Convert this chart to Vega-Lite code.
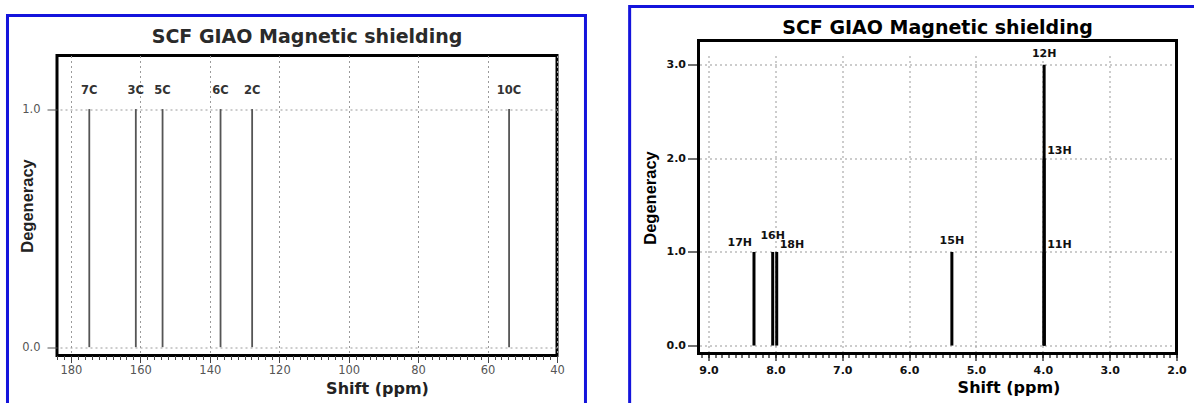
{
  "$schema": "https://vega.github.io/schema/vega-lite/v6.json",
  "background": "white",
  "padding": {"left": 4, "top": 4.5, "right": 0, "bottom": 0},
  "spacing": 38.5,
  "config": {
    "view": {"stroke": "black", "strokeWidth": 3, "fill": "white"}
  },
  "hconcat": [
    {
      "title": {"text": "SCF GIAO Magnetic shielding", "font": "DejaVu Sans", "fontSize": 19, "fontWeight": "bold", "color": "#2a2a2a", "baseline": "alphabetic", "offset": -48, "anchor": "middle"},
      "width": 500,
      "height": 300,
      "data": {"values": [
        {"atom": "7C", "shift": 174.7, "level": 1},
        {"atom": "3C", "shift": 161.3, "level": 1},
        {"atom": "5C", "shift": 153.6, "level": 1},
        {"atom": "6C", "shift": 136.9, "level": 1},
        {"atom": "2C", "shift": 127.8, "level": 1},
        {"atom": "10C", "shift": 53.8, "level": 1}
      ]},
      "resolve": {"axis": {"x": "independent"}},
      "layer": [
        {
          "mark": {"type": "rule", "color": "#555", "strokeWidth": 1.8},
          "encoding": {
            "x": {
              "field": "shift", "type": "quantitative",
              "scale": {"domain": [40, 184], "reverse": true, "nice": false, "zero": false},
              "axis": {
                "orient": "bottom",
                "values": [40, 60, 80, 100, 120, 140, 160, 180],
                "format": "d",
                "labelFont": "DejaVu Sans", "labelFontSize": 11.5, "labelColor": "#555",
                "labelPadding": 2, "labelFlush": false,
                "tickSize": 7, "tickColor": "#444", "tickWidth": 1,
                "gridColor": "#9a9a9a", "gridDash": [2, 3],
                "domain": false,
                "title": "Shift (ppm)",
                "titleFont": "DejaVu Sans", "titleFontSize": 16, "titleFontWeight": "bold", "titleColor": "#222",
                "titleAlign": "center", "titleX": 320, "titlePadding": 4
              }
            },
            "y": {
              "field": "level", "type": "quantitative",
              "scale": {"domain": [-0.035, 1.225], "nice": false, "zero": false},
              "axis": {
                "values": [0, 1], "format": ".1f",
                "labelFont": "DejaVu Sans", "labelFontSize": 11.5, "labelColor": "#555",
                "labelPadding": 7, "tickSize": 10, "tickColor": "#555",
                "gridColor": "#9a9a9a", "gridDash": [2, 3],
                "domain": false,
                "title": "Degeneracy",
                "titleFont": "Liberation Sans", "titleFontSize": 16.5, "titleFontWeight": "bold", "titleColor": "#222",
                "titleX": -22
              }
            },
            "y2": {"datum": 0}
          }
        },
        {
          "mark": {"type": "text", "font": "DejaVu Sans", "fontSize": 11.5, "fontWeight": "bold", "color": "#333", "baseline": "middle", "align": "center", "dy": -18},
          "encoding": {
            "x": {
              "field": "shift", "type": "quantitative",
              "axis": {
                "orient": "bottom",
                "values": [40,42,44,46,48,50,52,54,56,58,60,62,64,66,68,70,72,74,76,78,80,82,84,86,88,90,92,94,96,98,100,102,104,106,108,110,112,114,116,118,120,122,124,126,128,130,132,134,136,138,140,142,144,146,148,150,152,154,156,158,160,162,164,166,168,170,172,174,176,178,180,182,184],
                "labels": false, "grid": false, "domain": false,
                "tickSize": 4, "tickColor": "#444", "tickWidth": 1,
                "title": null
              }
            },
            "y": {"field": "level", "type": "quantitative"},
            "text": {"field": "atom"}
          }
        },
        {
          "data": {"values": [{"panel": "13C"}]},
          "mark": {"type": "rect", "clip": false, "filled": false, "stroke": "#1414dc", "strokeWidth": 3},
          "encoding": {
            "x": {"datum": 198.26, "type": "quantitative", "axis": null},
            "x2": {"datum": 31.8},
            "y": {"datum": 1.393, "type": "quantitative"},
            "y2": {"datum": -0.308}
          }
        }
      ]
    },
    {
      "title": {"text": "SCF GIAO Magnetic shielding", "font": "DejaVu Sans", "fontSize": 19, "fontWeight": "bold", "color": "#000", "baseline": "alphabetic", "offset": -48, "anchor": "middle"},
      "width": 478,
      "height": 298,
      "view": {"stroke": null, "fill": "white"},
      "data": {"values": [
        {"atom": "17H", "shift": 8.32, "level": 1},
        {"atom": "16H", "shift": 8.04, "level": 1},
        {"atom": "18H", "shift": 7.98, "level": 1},
        {"atom": "15H", "shift": 5.36, "level": 1},
        {"atom": "11H", "shift": 3.98, "level": 1},
        {"atom": "13H", "shift": 3.98, "level": 2},
        {"atom": "12H", "shift": 3.98, "level": 3}
      ]},
      "resolve": {"axis": {"x": "independent"}},
      "layer": [
        {
          "mark": {"type": "rule", "color": "#000", "strokeWidth": 3},
          "encoding": {
            "x": {
              "field": "shift", "type": "quantitative",
              "scale": {"domain": [2, 9.15], "reverse": true, "nice": false, "zero": false},
              "axis": {
                "orient": "bottom",
                "values": [2, 3, 4, 5, 6, 7, 8, 9],
                "format": ".1f",
                "labelFont": "DejaVu Sans", "labelFontSize": 11, "labelFontWeight": "bold", "labelColor": "#111",
                "labelPadding": 4, "labelFlush": false,
                "tickSize": 7, "tickColor": "#111", "tickWidth": 1.2,
                "gridColor": "#999", "gridDash": [2, 3],
                "domain": false,
                "title": "Shift (ppm)",
                "titleFont": "DejaVu Sans", "titleFontSize": 16, "titleFontWeight": "bold", "titleColor": "#000",
                "titleAlign": "center", "titleX": 310, "titlePadding": 4
              }
            },
            "y": {
              "field": "level", "type": "quantitative",
              "scale": {"domain": [-0.085, 3.0994], "nice": false, "zero": false},
              "axis": {
                "values": [0, 1, 2, 3], "format": ".1f",
                "labelFont": "DejaVu Sans", "labelFontSize": 11, "labelFontWeight": "bold", "labelColor": "#111",
                "labelPadding": 2, "tickSize": 11, "tickColor": "#111", "tickWidth": 1.2,
                "gridColor": "#999", "gridDash": [2, 3],
                "domain": false,
                "title": "Degeneracy",
                "titleFont": "Liberation Sans", "titleFontSize": 16.5, "titleFontWeight": "bold", "titleColor": "#000",
                "titleX": -40, "titleY": 142
              }
            },
            "y2": {"datum": 0}
          }
        },
        {
          "transform": [{"filter": "datum.atom === '12H' || datum.atom === '15H'"}],
          "mark": {"type": "text", "font": "DejaVu Sans", "fontSize": 11, "fontWeight": "bold", "color": "#111", "baseline": "middle", "align": "center", "dy": -11, "clip": false},
          "encoding": {
            "x": {
              "field": "shift", "type": "quantitative",
              "axis": {
                "orient": "bottom",
                "values": [2,2.1,2.2,2.3,2.4,2.5,2.6,2.7,2.8,2.9,3,3.1,3.2,3.3,3.4,3.5,3.6,3.7,3.8,3.9,4,4.1,4.2,4.3,4.4,4.5,4.6,4.7,4.8,4.9,5,5.1,5.2,5.3,5.4,5.5,5.6,5.7,5.8,5.9,6,6.1,6.2,6.3,6.4,6.5,6.6,6.7,6.8,6.9,7,7.1,7.2,7.3,7.4,7.5,7.6,7.7,7.8,7.9,8,8.1,8.2,8.3,8.4,8.5,8.6,8.7,8.8,8.9,9,9.1],
                "labels": false, "grid": false, "domain": false,
                "tickSize": 4, "tickColor": "#111", "tickWidth": 1.2,
                "title": null
              }
            },
            "y": {"field": "level", "type": "quantitative"},
            "text": {"field": "atom"}
          }
        },
        {
          "transform": [{"filter": "datum.atom === '16H'"}],
          "mark": {"type": "text", "font": "DejaVu Sans", "fontSize": 11, "fontWeight": "bold", "color": "#111", "baseline": "middle", "align": "center", "dy": -16},
          "encoding": {"x": {"field": "shift", "type": "quantitative", "axis": null}, "y": {"field": "level", "type": "quantitative"}, "text": {"field": "atom"}}
        },
        {
          "transform": [{"filter": "datum.atom === '17H'"}],
          "mark": {"type": "text", "font": "DejaVu Sans", "fontSize": 11, "fontWeight": "bold", "color": "#111", "baseline": "middle", "align": "right", "dx": -2, "dy": -9},
          "encoding": {"x": {"field": "shift", "type": "quantitative", "axis": null}, "y": {"field": "level", "type": "quantitative"}, "text": {"field": "atom"}}
        },
        {
          "transform": [{"filter": "datum.atom === '18H' || datum.atom === '13H' || datum.atom === '11H'"}],
          "mark": {"type": "text", "font": "DejaVu Sans", "fontSize": 11, "fontWeight": "bold", "color": "#111", "baseline": "middle", "align": "left", "dx": 3, "dy": -7},
          "encoding": {"x": {"field": "shift", "type": "quantitative", "axis": null}, "y": {"field": "level", "type": "quantitative"}, "text": {"field": "atom"}}
        },
        {
          "data": {"values": [{"panel": "frame"}]},
          "mark": {"type": "rect", "clip": false, "filled": false, "stroke": "#000", "strokeWidth": 3},
          "encoding": {
            "x": {"datum": 9.15, "type": "quantitative", "axis": null},
            "x2": {"datum": 2},
            "y": {"datum": 3.26, "type": "quantitative"},
            "y2": {"datum": -0.085}
          }
        },
        {
          "data": {"values": [{"panel": "1H"}]},
          "mark": {"type": "rect", "clip": false, "filled": false, "stroke": "#1414dc", "strokeWidth": 3},
          "encoding": {
            "x": {"datum": 10.18, "type": "quantitative", "axis": null},
            "x2": {"datum": 1.43},
            "y": {"datum": 3.623, "type": "quantitative"},
            "y2": {"datum": -0.8}
          }
        }
      ]
    }
  ]
}
